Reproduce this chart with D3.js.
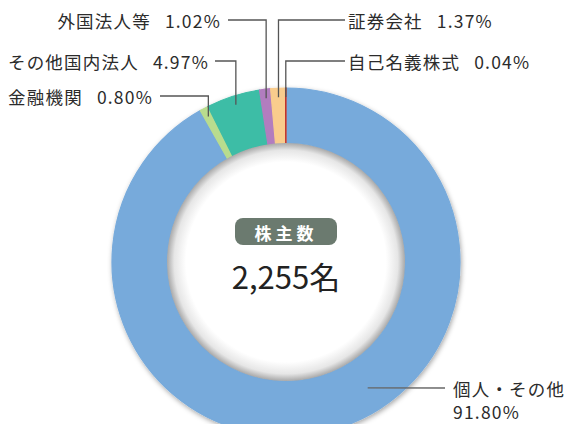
<!DOCTYPE html>
<html>
<head>
<meta charset="utf-8">
<script src="https://cdn.jsdelivr.net/npm/d3@7"></script>
<style>
  body { margin: 0; background: #fff; }
  text { font-family: "Noto Sans CJK JP", "Noto Sans", sans-serif; }
</style>
</head>
<body>
<div id="chart"></div>
<script>
// Données
const categories = ["個人・その他", "金融機関", "その他国内法人", "外国法人等", "証券会社", "自己名義株式"];
const shares = [91.80, 0.80, 4.97, 1.02, 1.37, 0.04];
const colors = ["#77aadb", "#b9dc8e", "#3dbda6", "#b27dbf", "#f9cc8d", "#c2312b"];
const totalLabel = "株主数";
const totalValue = "2,255名";

const width = 565, height = 424;
const cx = 286, cy = 262;
const outerR = 174, innerR = 119;

const svg = d3.select("#chart").append("svg")
  .attr("width", width).attr("height", height);

const defs = svg.append("defs");
// ombre portée du donut
const f = defs.append("filter").attr("id", "shadow")
  .attr("x", "-20%").attr("y", "-20%").attr("width", "140%").attr("height", "140%");
f.append("feDropShadow").attr("dx", 1).attr("dy", 2).attr("stdDeviation", 2.5)
  .attr("flood-color", "#000").attr("flood-opacity", 0.35);

// dégradé du trou central
const g0 = defs.append("radialGradient").attr("id", "hole");
g0.append("stop").attr("offset", "0%").attr("stop-color", "#fff");
g0.append("stop").attr("offset", "84%").attr("stop-color", "#fff");
g0.append("stop").attr("offset", "94%").attr("stop-color", "#e6e6e6");
g0.append("stop").attr("offset", "100%").attr("stop-color", "#a9a9a9");

const pie = d3.pie().sort(null).value(d => d);
const arc = d3.arc().innerRadius(innerR).outerRadius(outerR);
const arcs = pie(shares);

const g = svg.append("g").attr("transform", `translate(${cx},${cy})`);

g.append("g").attr("filter", "url(#shadow)")
  .selectAll("path").data(arcs).enter().append("path")
  .attr("d", arc)
  .attr("fill", (d, i) => colors[i])
  .attr("stroke", (d, i) => colors[i])
  .attr("stroke-width", 1.2);

g.append("circle").attr("r", innerR).attr("fill", "url(#hole)");

// étiquettes (position du texte + angle d'ancrage)
const labels = [
  { i: 0, side: "right", lx: 453, ly: 388, angle: 147 * Math.PI / 180, r: 150, lineX: 445, two: true },
  { i: 1, side: "left",  lx: 153, ly: 96,  r: 165, lineX: 160 },
  { i: 2, side: "left",  lx: 209, ly: 61,  r: 165, lineX: 215 },
  { i: 3, side: "left",  lx: 221, ly: 20,  r: 165, lineX: 228 },
  { i: 4, side: "right", lx: 348, ly: 20,  r: 165, lineX: 345 },
  { i: 5, side: "right", lx: 348, ly: 61,  r: 165, lineX: 345 }
];

const fmt = v => v.toFixed(2) + "%";

labels.forEach(l => {
  const a = arcs[l.i];
  const ang = l.angle !== undefined ? l.angle : (a.startAngle + a.endAngle) / 2;
  const ax = cx + l.r * Math.sin(ang);
  const ay = cy - l.r * Math.cos(ang);
  let pts;
  if (l.two) pts = [[ax, ay], [l.lineX, l.ly]];
  else pts = [[ax, ay], [ax, l.ly], [l.lineX, l.ly]];
  svg.append("path")
    .attr("d", d3.line()(pts))
    .attr("fill", "none")
    .attr("stroke", l.i === 0 ? "#666" : "#555")
    .attr("stroke-width", 1.3);

  const t = svg.append("text")
    .attr("x", l.lx)
    .attr("y", l.ly)
    .attr("dominant-baseline", "central")
    .attr("text-anchor", l.side === "left" ? "end" : "start")
    .style("font-size", "17.5px")
    .style("letter-spacing", "1.2px")
    .style("fill", "#2b2b2b");
  if (l.two) {
    t.append("tspan").attr("x", l.lx).attr("dy", 0).text(categories[l.i]);
    t.append("tspan").attr("x", l.lx).attr("dy", 23).text(fmt(shares[l.i]));
  } else {
    t.append("tspan").text(categories[l.i]);
    t.append("tspan").attr("dx", 14).text(fmt(shares[l.i]));
  }
});

// centre
svg.append("rect")
  .attr("x", cx - 51).attr("y", 218).attr("width", 102).attr("height", 27)
  .attr("rx", 8).attr("fill", "#6b7a6f");
svg.append("text")
  .attr("x", cx).attr("y", 232)
  .attr("text-anchor", "middle").attr("dominant-baseline", "central")
  .style("font-size", "17px").style("font-weight", "bold")
  .style("letter-spacing", "4px")
  .style("fill", "#fff")
  .text(totalLabel);
svg.append("text")
  .attr("x", cx).attr("y", 275)
  .attr("text-anchor", "middle").attr("dominant-baseline", "central")
  .style("font-size", "31px")
  .style("fill", "#222")
  .text(totalValue);
</script>
</body>
</html>
